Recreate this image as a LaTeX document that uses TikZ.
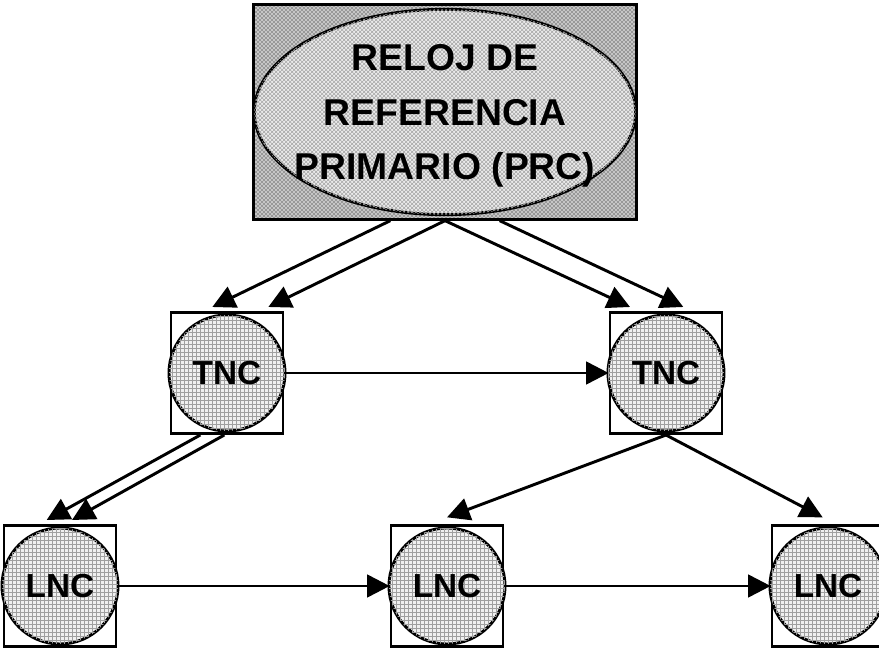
\documentclass[tikz,border=0pt]{standalone}
\usepackage{fontspec}
\setmainfont{Liberation Sans}
\usetikzlibrary{arrows.meta,patterns,shapes.geometric}

\tikzset{
  frame/.style={draw, line width=2pt, rectangle, inner sep=0pt},
  clkbox/.style={frame, minimum width=84pt, minimum height=91pt, fill=white},
  clkring/.style={circle, draw, line width=2.2pt, inner sep=0pt, minimum size=87pt,
    fill=gray!12, postaction={pattern=grid, pattern color=gray!75},
    font=\bfseries\fontsize{25}{28}\selectfont},
  link/.style={->, line width=2.2pt},
}

\begin{document}
\begin{tikzpicture}[x=0.75pt,y=-0.75pt, >={Triangle[length=17pt,width=17pt]}]
    \useasboundingbox (0,0) rectangle (879,648);
    % Reloj primario
    \node[frame, minimum width=287pt, minimum height=161pt, fill=gray!45,
      postaction={pattern=crosshatch dots}] (prc) at (445,112) {};
    \node[ellipse, draw, line width=2.2pt, minimum width=286pt, minimum height=154pt,
      fill=gray!15, postaction={pattern=crosshatch, pattern color=gray!70}] (prc-e) at (prc) {};
    \node[font=\bfseries\fontsize{28}{41}\selectfont, align=center] (prc-t) at (445,116)
      {RELOJ DE\\REFERENCIA\\PRIMARIO (PRC)};
    % TNC
    \node[clkbox] (tncA) at (227,373) {};
    \node[clkring] (tncA-c) at (tncA) {TNC};
    \node[clkbox] (tncB) at (666,373) {};
    \node[clkring] (tncB-c) at (tncB) {TNC};
    % LNC
    \node[clkbox] (lncA) at (60,586) {};
    \node[clkring] (lncA-c) at (lncA) {LNC};
    \node[clkbox] (lncB) at (447,586) {};
    \node[clkring] (lncB-c) at (lncB) {LNC};
    \node[clkbox] (lncC) at (828,586) {};
    \node[clkring] (lncC-c) at (lncC) {LNC};
    % Enlaces
    \draw[link] ([xshift=-41pt]prc.south) -- ([xshift=-11pt,yshift=3pt]tncA.north);
    \draw[link] (prc.south) -- ([xshift=31pt,yshift=3pt]tncA.north);
    \draw[link] (prc.south) -- ([xshift=-27pt,yshift=3pt]tncB.north);
    \draw[link] ([xshift=41pt]prc.south) -- ([xshift=13pt,yshift=3pt]tncB.north);
    \draw[link] ([xshift=-20pt]tncA.south) -- ([xshift=-10pt,yshift=3pt]lncA.north);
    \draw[link] ([xshift=-2pt]tncA.south) -- ([xshift=9pt,yshift=3pt]lncA.north);
    \draw[link] (tncB.south) -- ([yshift=5pt]lncB.north);
    \draw[link] (tncB.south) -- ([xshift=-4pt,yshift=5pt]lncC.north);
    \draw[link] (tncA.east) -- (tncB.west);
    \draw[link] (lncA.east) -- (lncB.west);
    \draw[link] (lncB.east) -- (lncC.west);
\end{tikzpicture}
\end{document}
